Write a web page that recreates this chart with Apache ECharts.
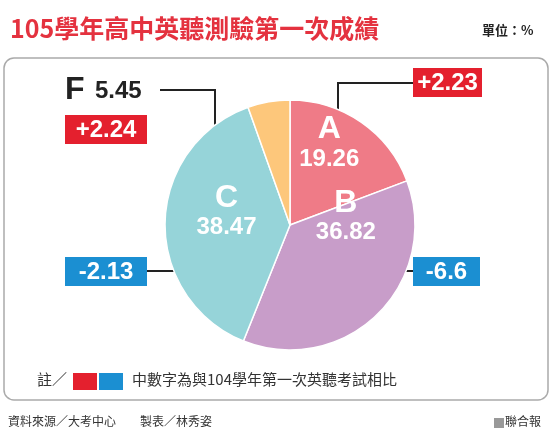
<!DOCTYPE html><html><head><meta charset="utf-8">
<script src="https://cdn.jsdelivr.net/npm/echarts@6/dist/echarts.min.js"></script>
<style>body{margin:0;background:#fff}#c{width:554px;height:443px}</style></head><body><div id="c"></div>
<script>
const categories=['A','B','C','F'];
const values=[19.26,36.82,38.47,5.45];
const changes=['+2.23','-6.6','-2.13','+2.24'];
const colors=['#ef7b87','#c89dc9','#96d4d9','#fdc77b'];
const chart=echarts.init(document.getElementById('c'));
const F='"Liberation Sans",Arial,sans-serif';
const CJK='"Noto Sans CJK TC",sans-serif';
function box(x,y,w,t,col){return [{type:'rect',shape:{x:x,y:y,width:w,height:29},style:{fill:col}},
{type:'text',x:x+w/2,y:y+15,style:{text:t,fill:'#fff',font:'bold 24px '+F,align:'center',verticalAlign:'middle'}}];}
function line(pts){return [{type:'polyline',shape:{points:pts},style:{stroke:'#222',lineWidth:2,fill:null}},
{type:'circle',shape:{cx:pts[pts.length-1][0],cy:pts[pts.length-1][1],r:4},style:{fill:'#222'}}];}
const labelOffsets=[[2,-28],[10,-55],[2,-12],[0,0]];
chart.setOption({
animation:false,
graphic:[
{type:'rect',shape:{x:4,y:58,width:544,height:342,r:10},style:{fill:'#fff',stroke:'#aaa',lineWidth:1.5},z:-1},
{type:'text',x:10,y:16,style:{text:'105學年高中英聽測驗第一次成績',fill:'#e4323f',font:'bold 25px '+CJK}},
{type:'text',x:482,y:24,style:{text:'單位：%',fill:'#222',font:'bold 13px '+CJK}},
{type:'text',x:65,y:74,style:{text:'F',fill:'#222',font:'bold 32px '+F}},
{type:'text',x:95,y:79,style:{text:values[3].toFixed(2),fill:'#222',font:'bold 24px '+F}},
...line([[160,90],[215,90],[215,130]]),
...line([[413,83],[338,83],[338,125]]),
...line([[147,271],[192,271]]),
...line([[413,271],[382,271]]),
...box(413,68,69,changes[0],'#e4202e'),
...box(65,115,82,changes[3],'#e4202e'),
...box(65,257,82,changes[2],'#1b8fd2'),
...box(413,257,67,changes[1],'#1b8fd2'),
{type:'text',x:37,y:372,style:{text:'註／',fill:'#333',font:'15px '+CJK}},
{type:'rect',shape:{x:73,y:373,width:24,height:17},style:{fill:'#e4202e'}},
{type:'rect',shape:{x:99,y:373,width:24,height:17},style:{fill:'#1b8fd2'}},
{type:'text',x:132,y:372,style:{text:'中數字為與104學年第一次英聽考試相比',fill:'#333',font:'15px '+CJK}},
{type:'text',x:8,y:415,style:{text:'資料來源／大考中心　　製表／林秀姿',fill:'#333',font:'12px '+CJK}},
{type:'rect',shape:{x:494,y:418,width:10,height:10},style:{fill:'#999'}},
{type:'text',x:505,y:415,style:{text:'聯合報',fill:'#333',font:'12px '+CJK}}
],
series:[{type:'pie',center:[290,225],radius:[0,125],startAngle:90,clockwise:true,silent:true,
itemStyle:{borderColor:'#fff',borderWidth:1.5},
label:{position:'inside',color:'#fff',fontFamily:F,fontWeight:'bold',
formatter:p=>p.name==='F'?'':'{a|'+p.name+'}\n{b|'+p.value.toFixed(2)+'}',
rich:{a:{fontSize:32,fontWeight:'bold',color:'#fff',fontFamily:F,lineHeight:32},b:{fontSize:24,fontWeight:'bold',color:'#fff',fontFamily:F,lineHeight:28}}},
labelLine:{show:false},
data:categories.map((c,i)=>({name:c,value:values[i],itemStyle:{color:colors[i]},label:{offset:labelOffsets[i]}}))}]
});
</script></body></html>
